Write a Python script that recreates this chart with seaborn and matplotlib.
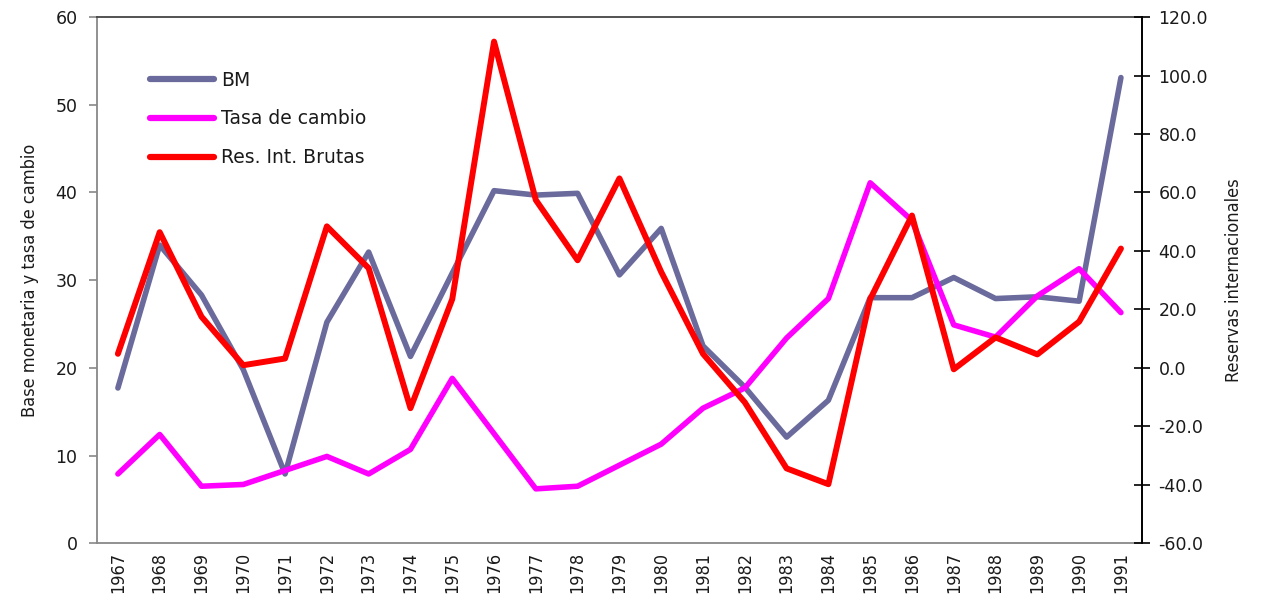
import numpy as np
import pandas as pd
import seaborn as sns
import matplotlib.pyplot as plt
from matplotlib.lines import Line2D
from matplotlib import font_manager

sns.set_style('white')
plt.rcParams['font.family'] = ['DejaVu Sans']
plt.rcParams['text.color'] = '#1a1a1a'
plt.rcParams['xtick.color'] = '#1a1a1a'
plt.rcParams['ytick.color'] = '#1a1a1a'
plt.rcParams['axes.labelcolor'] = '#1a1a1a'

years = [1967, 1968, 1969, 1970, 1971, 1972, 1973, 1974, 1975, 1976, 1977, 1978, 1979,
         1980, 1981, 1982, 1983, 1984, 1985, 1986, 1987, 1988, 1989, 1990, 1991]
bm = [17.7, 34.0, 28.3, 19.8, 7.9, 25.2, 33.2, 21.3, 30.8, 40.2, 39.7, 39.9, 30.6,
      35.9, 22.5, 17.8, 12.1, 16.3, 28.0, 28.0, 30.3, 27.9, 28.1, 27.6, 53.1]
tasa = [7.9, 12.4, 6.5, 6.7, 8.3, 9.9, 7.9, 10.7, 18.8, 12.5, 6.2, 6.5, 8.9,
        11.3, 15.4, 17.7, 23.4, 27.9, 41.1, 36.8, 24.9, 23.5, 28.2, 31.3, 26.3]
reservas = [4.8, 46.4, 17.5, 0.9, 3.2, 48.4, 34.1, -13.8, 23.5, 111.6, 57.4, 36.8, 64.8,
            32.8, 4.8, -11.8, -34.4, -39.8, 23.5, 52.1, -0.5, 10.4, 4.6, 15.8, 40.8]

df = pd.DataFrame({'pos': np.arange(len(years)), 'BM': bm, 'Tasa': tasa, 'RIB': reservas})

c_bm = '#6a6a9c'
c_tasa = '#ff00ff'
c_rib = '#ff0000'

narrow = font_manager.FontProperties(family='DejaVu Sans', stretch='condensed', size=13)

fig = plt.figure(figsize=(12.68, 6.09), dpi=100)
ax = fig.add_axes([0.0765, 0.108, 0.824, 0.864])

sns.lineplot(data=df, x='pos', y='BM', ax=ax, color=c_bm, lw=4)
sns.lineplot(data=df, x='pos', y='Tasa', ax=ax, color=c_tasa, lw=4)
ax2 = ax.twinx()
sns.lineplot(data=df, x='pos', y='RIB', ax=ax2, color=c_rib, lw=4.3)

ax.set_xlim(-0.5, len(years) - 0.5)
ax.set_ylim(0, 60)
ax2.set_ylim(-60, 120)
ax.set_yticks(np.arange(0, 61, 10))
ax2.set_yticks(np.arange(-60, 121, 20))
ax2.set_yticklabels([f'{v:.1f}' for v in np.arange(-60, 121, 20)])

# category labels at centres, tick marks between categories
ax.set_xticks(df['pos'])
ax.set_xticklabels(years, rotation=90, fontproperties=narrow)
ax.set_xticks(np.arange(-0.5, len(years), 1), minor=True)
ax.tick_params(axis='x', which='major', length=0, pad=6)
ax.tick_params(axis='x', which='minor', length=6, color='#888888', width=1.2, direction='out')
ax.tick_params(axis='y', length=6, color='#888888', width=1.2, direction='out', labelsize=12.5, pad=8)
ax2.tick_params(axis='y', length=12, color='black', width=1.2, direction='inout', labelsize=12.5, pad=6)

for a in (ax, ax2):
    for s in a.spines.values():
        s.set_linewidth(1.3)
ax.spines['left'].set_color('#888888')
ax.spines['bottom'].set_color('#888888')
ax.spines['top'].set_color('#444444')
ax2.spines['right'].set_color('black')
ax2.spines['left'].set_visible(False)
ax2.spines['bottom'].set_visible(False)
ax2.spines['top'].set_visible(False)

ax.set_xlabel('')
ax.set_ylabel('Base monetaria y tasa de cambio', fontproperties=narrow, labelpad=12)
ax2.set_ylabel('Reservas internacionales', fontproperties=narrow, labelpad=12)
ax.grid(False)
ax2.grid(False)

handles = [Line2D([], [], color=c_bm, lw=4.5),
           Line2D([], [], color=c_tasa, lw=4.5),
           Line2D([], [], color=c_rib, lw=4.5)]
ax2.legend(handles, ['BM', 'Tasa de cambio', 'Res. Int. Brutas'], loc='upper left',
           bbox_to_anchor=(0.035, 0.93), frameon=False, fontsize=13.5,
           handlelength=3.4, handletextpad=0.35, labelspacing=1.05)

fig.savefig('out.png', dpi=100)
